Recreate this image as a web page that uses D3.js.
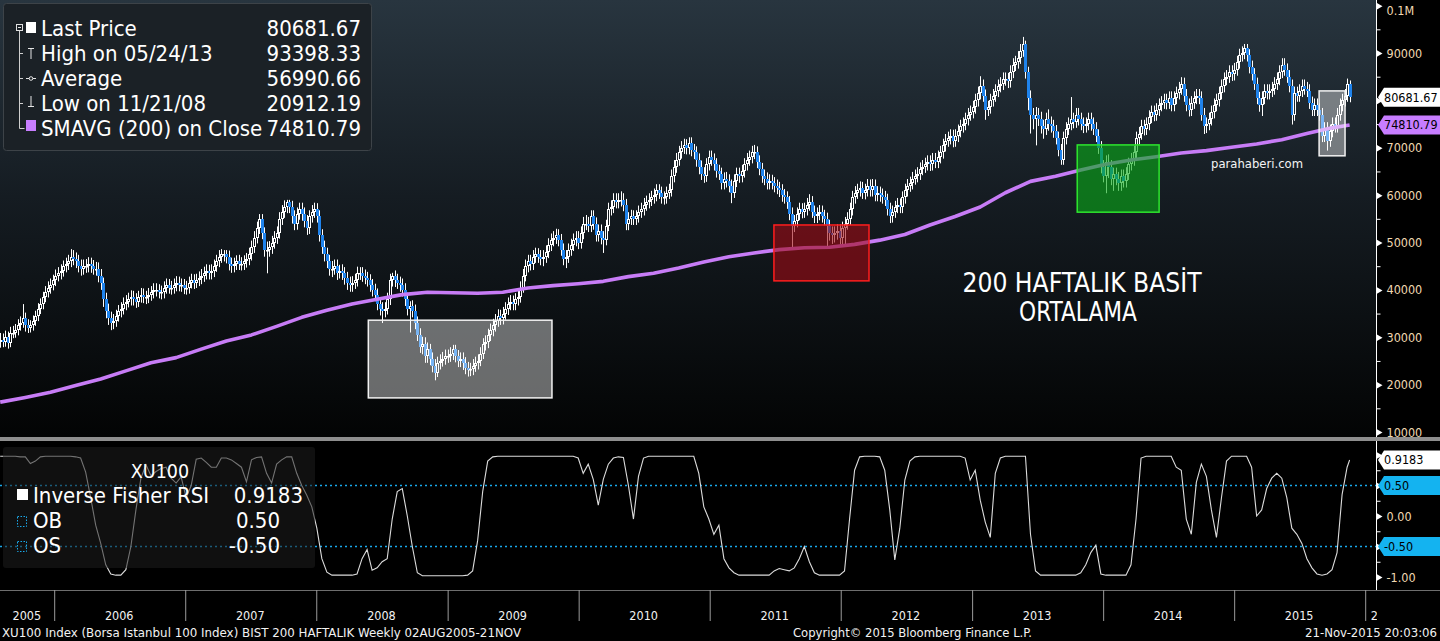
<!DOCTYPE html>
<html><head><meta charset="utf-8">
<script src="https://cdn.jsdelivr.net/npm/d3@7"></script>
<style>html,body{margin:0;padding:0;background:#000;overflow:hidden}svg{display:block}</style>
</head><body>
<svg id="chart" width="1440" height="641"></svg>
<script>
// ---------------- DATA (prices in thousands of index points) ----------------
const startDate = "2005-08-05";          // first weekly bar
const closes = [
29.5,29,30,28.8,31,31,31.5,32.5,33,34,
32.5,32,32.5,33.5,34.5,36,37,38.5,39.5,40.5,
41,42,43,43.5,44,45,45.5,46,47,46.5,
46,45,44.5,45,45,45.5,45,44.5,44.5,43,
41.5,38,35.5,34,33,33.5,34.5,35.5,36,37,
37.5,38,38.5,38,37.5,38.5,39,38.5,38.5,39,
39.5,40,40,39.5,39.5,40.5,41,40.5,40.5,41,
41.5,41,41,40.5,40.5,41.5,42,41.5,42,42.5,
43,43.5,44,43.5,44,45,46,47,47.5,47.5,
47,45.5,45,45.5,46,45.5,45.5,46,46.5,47.5,
49,51,53,55,52,48.5,48.5,49,50,51,
52,55,56.5,57.5,58.5,57.5,55.5,54,56,57,
56,54.5,53,55.5,56.5,57,55.5,51.5,49,47.5,
46,44.5,44.5,45,43.5,44,43.5,42.5,41.5,41,
41.5,42,43.5,43.5,43,42.5,42,41,40,39,
37,36,35.5,36,38,42,43,42,41.5,41,
40,38,36,36.5,35.5,33,30.5,28,28.5,26,
27.5,25.5,24,22.5,24.5,25,25.5,26,26,26.5,
27.5,26,25,25.5,24.5,23.5,23,23.2,24,24.5,
25,26.5,28.5,29,30.5,31.5,32.5,33.5,34.5,34,
35,36,37,37.5,37,38,38.5,40.5,43,45,
46,45.5,47,47.5,47,46.5,47,48,49.5,50.5,
51,51.5,50.5,48.5,46.5,47,48.5,49.5,50.5,51,
50,52,54,54,53.5,55.5,54,51.5,52.5,51,
50.5,53.5,57,57.5,59,58.5,59,59,58,54,
55,55.5,55,55.5,56.5,57,58,58.5,59,59.5,
60,61,60.5,59.5,59.5,60.5,61,64,66,67.5,
69,70,70.5,70,71,69.5,69,67.5,66,64.5,
64,66.5,68,67.5,66.5,65,64.5,62.5,63.5,63,
62,60.5,63,64.5,64,65,66.5,67.5,68,69,
69,67,65.5,64,63.5,62.5,63,62.5,62,61.5,
61,60,59.5,58.5,56,53.5,54.5,56,57,56.5,
57,58,58.5,56.5,55.5,56,56.5,55.5,55,53.5,
52,51.5,52,52.5,51,53,54,55,57,59.5,
60.5,61,61.5,60.5,61,62,61,62,60,60.5,
60,59.5,59,57,55.5,56.5,57.5,58,57.5,59.5,
61,62,62.5,63.5,64,64.5,65.5,66,66.5,67,
66.5,67.5,67,68,69,70.5,71.5,72,72.5,71.5,
72.5,73.5,74.5,75,76,77,77.5,78.5,80,81.5,
83,81,78,78.5,80,81,82,83,83.5,84.5,
84.5,84,86,87.5,88,89,90.5,92,86,80.5,
77,76,77,76,74.5,74,76,75,74.5,73.5,
72,69.5,67.5,72,74,75,76,75.5,77,76,
75,74.5,75,76,75,74,72.5,70,66,64,
67,66,63.5,64.5,63.5,62.5,64,63,64.5,66.5,
67.5,69,72,73,74.5,74,75,76.5,77.5,77,
78,79,79.5,80,79.5,80.5,79,80.5,81.5,82.5,
83.5,81,79,78,79.5,80.5,81,80.5,77,74.5,
75,76,77.5,79,80,81.5,83,84.5,85,86,
85.5,86.5,88,89.5,90,91,89.5,87,85.5,83.5,
80.5,79,80.5,82,81.5,82,82.5,83.5,84.5,86,
87.5,86.5,85,83,77,81.5,81,82,83,82.5,
82,79.5,78,79,78,77,72.5,74,71.5,73.5,
75,74.5,77,79,80,81,83.5,80.68167];
const opens = [
29,29.5,29,30,28.8,31,31,31.5,32.5,33,
34,32.5,32,32.5,33.5,34.5,36,37,38.5,39.5,
40.5,41,42,43,43.5,44,45,45.5,46,47,
46.5,46,45,44.5,45,45,45.5,45,44.5,44.5,
43,41.5,38,35.5,34,33,33.5,34.5,35.5,36,
37,37.5,38,38.5,38,37.5,38.5,39,38.5,38.5,
39,39.5,40,40,39.5,39.5,40.5,41,40.5,40.5,
41,41.5,41,41,40.5,40.5,41.5,42,41.5,42,
42.5,43,43.5,44,43.5,44,45,46,47,47.5,
47.5,47,45.5,45,45.5,46,45.5,45.5,46,46.5,
47.5,49,51,53,55,52,48.5,48.5,49,50,
51,52,55,56.5,57.5,58.5,57.5,55.5,54,56,
57,56,54.5,53,55.5,56.5,57,55.5,51.5,49,
47.5,46,44.5,44.5,45,43.5,44,43.5,42.5,41.5,
41,41.5,42,43.5,43.5,43,42.5,42,41,40,
39,37,36,35.5,36,38,42,43,42,41.5,
41,40,38,36,36.5,35.5,33,30.5,28,28.5,
26,27.5,25.5,24,22.5,24.5,25,25.5,26,26,
26.5,27.5,26,25,25.5,24.5,23.5,23,23.2,24,
24.5,25,26.5,28.5,29,30.5,31.5,32.5,33.5,34.5,
34,35,36,37,37.5,37,38,38.5,40.5,43,
45,46,45.5,47,47.5,47,46.5,47,48,49.5,
50.5,51,51.5,50.5,48.5,46.5,47,48.5,49.5,50.5,
51,50,52,54,54,53.5,55.5,54,51.5,52.5,
51,50.5,53.5,57,57.5,59,58.5,59,59,58,
54,55,55.5,55,55.5,56.5,57,58,58.5,59,
59.5,60,61,60.5,59.5,59.5,60.5,61,64,66,
67.5,69,70,70.5,70,71,69.5,69,67.5,66,
64.5,64,66.5,68,67.5,66.5,65,64.5,62.5,63.5,
63,62,60.5,63,64.5,64,65,66.5,67.5,68,
69,69,67,65.5,64,63.5,62.5,63,62.5,62,
61.5,61,60,59.5,58.5,56,53.5,54.5,56,57,
56.5,57,58,58.5,56.5,55.5,56,56.5,55.5,55,
53.5,52,51.5,52,52.5,51,53,54,55,57,
59.5,60.5,61,61.5,60.5,61,62,61,62,60,
60.5,60,59.5,59,57,55.5,56.5,57.5,58,57.5,
59.5,61,62,62.5,63.5,64,64.5,65.5,66,66.5,
67,66.5,67.5,67,68,69,70.5,71.5,72,72.5,
71.5,72.5,73.5,74.5,75,76,77,77.5,78.5,80,
81.5,83,81,78,78.5,80,81,82,83,83.5,
84.5,84.5,84,86,87.5,88,89,90.5,92,86,
80.5,77,76,77,76,74.5,74,76,75,74.5,
73.5,72,69.5,67.5,72,74,75,76,75.5,77,
76,75,74.5,75,76,75,74,72.5,70,66,
64,67,66,63.5,64.5,63.5,62.5,64,63,64.5,
66.5,67.5,69,72,73,74.5,74,75,76.5,77.5,
77,78,79,79.5,80,79.5,80.5,79,80.5,81.5,
82.5,83.5,81,79,78,79.5,80.5,81,80.5,77,
74.5,75,76,77.5,79,80,81.5,83,84.5,85,
86,85.5,86.5,88,89.5,90,91,89.5,87,85.5,
83.5,80.5,79,80.5,82,81.5,82,82.5,83.5,84.5,
86,87.5,86.5,85,83,77,81.5,81,82,83,
82.5,82,79.5,78,79,78,77,72.5,74,71.5,
73.5,75,74.5,77,79,80,81,83.5];
const highs = [
30.9,30.8,31.4,31.2,32.2,32.4,32.8,33.8,34.4,37,
35.2,33.8,33.6,34.6,35.6,37.2,38.2,39.6,40.8,41.8,
42.4,43.2,44.3,44.8,45.4,46.2,46.8,47.4,48.6,48.4,
47.9,47.4,46.4,46.4,46.5,46.9,46.8,46.3,45.9,45.8,
44.4,42.6,39.4,37.1,35.4,34.9,35.8,36.8,37.4,38.4,
38.9,39.4,39.9,39.8,39.3,39.8,40.4,40.3,39.8,40.4,
40.8,41.4,41.4,41.2,40.9,41.8,42.4,42.3,41.9,42.4,
42.9,42.8,42.4,42.3,41.9,42.8,43.4,43.3,43.4,43.9,
44.4,44.9,45.4,45.3,45.4,46.4,47.4,48.4,48.6,48.4,
48.4,48.3,46.8,46.8,47.3,47.4,46.9,47.3,47.8,48.9,
50.4,52.4,54.4,56,56,53.2,50.2,50.3,51.4,52.4,
53.4,56.4,57.9,58.9,59,59,58.8,56.8,57.4,58.4,
58.4,57.4,55.8,56.8,57.9,58.4,58.3,56.8,52.8,50.4,
48.9,47.4,46.1,46.4,46.4,45.3,45.4,44.8,43.8,42.8,
42.9,43.4,44.9,44.8,44.8,44.3,43.8,43.3,42.3,41.3,
40.3,38.4,37.4,37.4,39.4,43.4,43.6,44.1,43.4,42.8,
42.4,41.4,39.4,37.6,37.8,36.9,34.4,31.9,30.1,30,
28.9,28.6,26.8,25.4,25.9,26.4,26.9,27.4,27.4,27.9,
28.4,28.4,27.3,26.8,26.8,25.8,24.8,24.6,25.4,25.9,
26.4,27.9,29.8,30.4,31.8,32.9,33.9,34.9,35.9,35.8,
36.4,37.4,38.4,38.9,38.8,39.3,39.9,41.8,44.4,46.4,
47.4,47.4,48.4,48.9,48.8,48.4,48.4,49.4,50.9,51.9,
52.4,52.9,52.8,51.8,49.8,48.4,49.8,50.8,51.9,52.4,
52.4,53.4,55.4,55.8,55.4,56.8,56.8,55.3,53.8,53.8,
52.4,54.8,58.4,58.9,60.4,60.4,60.4,60.8,60.4,59.2,
56.4,56.9,56.8,56.8,57.8,58.4,59.4,59.9,60.4,60.9,
61.4,62.3,62.3,61.8,60.8,61.8,62.4,65.4,67.4,68.9,
70.4,71.4,71.9,71.8,72.2,72.2,70.8,70.3,68.8,67.3,
65.9,67.8,69.4,69.4,68.8,67.8,66.4,65.8,64.8,64.9,
64.4,63.3,64.4,65.8,65.8,66.4,67.8,68.9,69.4,70.4,
70.6,70.3,68.4,66.8,65.4,64.8,64.4,64.3,63.8,63.3,
62.8,62.3,61.3,60.8,59.8,57.4,55.8,57.4,58.4,58.3,
58.4,59.4,60.2,59.8,57.8,57.4,57.9,57.8,56.9,56.3,
54.8,53.4,53.4,53.8,53.8,54.4,55.4,56.4,58.4,60.9,
61.9,62.4,62.9,62.8,62.4,63.4,63.3,63.4,63.3,61.9,
61.8,61.4,60.9,60.3,58.4,57.8,58.8,59.4,59.3,60.8,
62.4,63.4,63.9,64.9,65.4,65.9,66.9,67.4,67.9,68.4,
68.4,68.9,68.9,69.4,70.4,71.9,72.9,73.4,73.9,73.8,
73.9,74.9,75.9,76.4,77.4,78.4,78.9,79.9,81.4,82.9,
85.1,84.4,82.3,79.9,81.4,82.4,83.4,84.4,84.9,85.9,
85.9,85.8,87.4,88.9,89.4,90.4,91.9,93.39833,92.6,87.1,
82.1,78.4,78.6,78.4,77.6,75.9,77.4,78.1,76.6,75.9,
74.8,73.4,70.8,73.4,75.4,76.4,80.7,77.4,78.4,78.4,
77.4,76.4,76.4,77.4,77.4,76.4,75.4,73.9,71.4,67.4,
68.4,68.6,67.4,65.8,65.8,64.9,65.4,65.4,65.9,67.9,
68.9,70.4,73.4,74.4,75.9,75.9,76.4,77.9,78.9,78.9,
79.4,80.4,80.9,81.4,81.4,81.9,81.9,81.9,82.9,83.9,
84.9,84.8,82.4,80.4,80.9,81.9,82.4,82.4,81.9,78.4,
76.4,77.4,78.9,80.4,81.4,82.9,84.4,85.9,86.4,87.4,
87.4,87.9,89.4,90.9,91.4,91.9,91.9,90.8,88.4,86.8,
84.8,81.8,81.9,83.4,83.4,83.4,83.9,84.9,85.9,87.4,
88.9,88.9,87.8,86.4,84.4,82.9,82.9,83.4,84.4,84.4,
83.9,83.4,80.8,80.4,80.4,79.4,78.4,75.4,75.4,74.9,
76.4,76.4,78.4,80.4,81.4,82.4,84.6,84.2];
const lows = [
27.8,27.9,28,27.6,27.9,29.8,29.9,30.4,31.4,32,
31.2,30.9,31,31.4,32.4,33.4,34.9,35.9,37.4,38.4,
39.2,39.9,40.8,41.8,42.2,42.8,43.7,44.2,44.8,45.2,
44.6,43.7,43,43.2,43.6,43.7,43.6,43.2,43,41.6,
40,36.4,34,32.6,31.5,31.7,32.2,33.3,34.2,34.8,
35.7,36.3,36.7,36.7,36.2,36.4,37.3,37.2,37,37.2,
37.7,38.2,38.6,38.2,38,38.2,39.2,39.2,39,39.2,
39.7,39.7,39.6,39.1,39,39.2,40.3,40.2,40.4,40.8,
41.2,41.7,42.2,42.2,42.2,42.7,43.8,44.8,45.7,46,
45.6,44.1,43.6,43.7,44.2,44.2,44.1,44.2,44.7,45.2,
46.2,47.8,49.8,51.8,50.7,47,43.5,47,47.6,48.7,
49.7,50.8,53.7,55.2,56.2,56.2,54,52.6,52.7,54.8,
54.6,53.2,51.6,51.8,54.2,55.2,54.2,50.2,47.6,46,
44.6,43,42.7,43.2,42.1,42.4,42.1,41.1,40,39.6,
39.6,40.2,40.7,42.1,41.7,41.2,40.7,39.6,38.6,37.6,
35.7,34.6,33,34.2,34.8,36.8,40.7,40.6,40.2,39.6,
38.6,36.6,34.6,31,34.2,31.7,29.2,26.7,26.4,24.6,
24.6,24.1,22.6,20.91219,21.6,23.2,23.8,24.2,24.6,24.8,
25.2,24.7,23.7,23.7,23.1,22.2,21.7,21.8,22,22.7,
23.2,23.9,25.4,27.2,27.7,29.2,30.2,31.2,32.2,32.6,
32.7,33.7,34.7,35.7,35.7,35.7,36.7,37.3,39.4,41.8,
43.7,44.1,44.2,45.7,45.7,45.2,45,45.7,46.7,48.2,
49.2,49.7,49.2,47.2,45.2,44.6,45.7,47.2,48.2,49.2,
48.6,48.7,50.7,52.6,52.2,52.2,52.7,50.2,50.2,49.6,
47.8,49.4,52.4,55.7,56.2,57.2,57.2,57.6,56.6,52.6,
52.6,53.7,53.7,53.7,54.2,55.2,55.7,56.7,57.2,57.7,
58.2,58.7,59.2,58.2,58,58.2,59.2,59.7,62.7,64.7,
66.2,67.7,68.7,68.6,68.6,68.2,67.6,66,64.4,63.2,
62.6,62.8,65.2,66.2,65.2,63.7,63.2,61.2,61.2,61.6,
60.6,58.3,59.4,61.7,62.6,62.7,63.7,65.2,66.2,66.7,
67.6,65.7,64.2,62.6,62.1,61.2,61.2,61.2,60.6,60.2,
59.6,58.6,58.2,57.1,54.7,48.8,52.2,53.2,54.7,55.1,
55.2,55.7,56.7,55.2,54.1,54.1,54.7,54.2,53.6,49,
50.4,49.7,50,50.6,49.6,49.6,49.5,52.7,53.7,55.7,
58.2,59.2,59.7,59.2,59.1,59.7,59.7,59.7,58.7,58.7,
58.6,58.2,57.7,55.7,54.1,54.2,55.2,56.2,56.2,56.2,
58.2,59.7,60.7,61.2,62.2,62.7,63.2,64.2,64.7,65.2,
65.1,65.2,65.7,65.7,66.7,67.7,69.2,70.2,70.7,70.1,
70.2,71.2,72.2,73.2,73.7,74.7,75.7,76.2,77.2,78.7,
80.2,79.7,75.9,76.7,77.2,78.7,79.7,80.7,81.7,82.2,
83.1,82.6,82.7,84.7,86.2,86.7,87.7,89.2,84.6,77.9,
73,73.9,70.5,74.6,73,71.9,72.7,73.6,73.2,72.1,
70.7,68.2,66.4,66.4,70.7,72.7,73.7,74.1,74.2,74.7,
73.7,73.1,73.2,73.7,73.6,72.7,71.2,68.7,64.6,62.7,
60.4,63.6,62.1,60.9,62.1,60.9,60.9,61.6,61.6,63.2,
65.2,66.2,67.7,70.7,71.7,72.6,72.7,73.7,75.2,75.6,
75.7,76.7,77.7,78.2,78.1,78.2,77.7,77.7,79.2,80.2,
81.2,79.7,77.7,76.6,76.7,78.2,79.2,79.2,75.7,72.9,
73.1,73.7,74.7,76.2,77.7,78.7,80.2,81.7,83.2,83.7,
84.1,84.2,85.2,86.7,88.2,88.7,88.2,85.7,84.2,82.2,
79.2,77.6,76.7,79.2,80.2,80.2,80.7,81.2,82.2,83.2,
84.7,85.2,83.7,81.7,74.9,75.7,79.7,79.7,80.7,81.2,
80.7,78.2,76.7,76.7,76.7,75.7,71.2,71.2,69.4,70.2,
72.2,73.2,73.2,75.7,77.7,78.7,79.7,79.6];
// 200-week simple moving average, read every 10 weeks (last point = final week)
const smaWeeks = [0,10,20,30,40,50,60,70,80,90,100,110,120,130,140,150,160,170,180,190,200,210,220,230,240,250,260,270,280,290,300,310,320,330,340,350,360,370,380,390,400,410,420,430,440,450,460,470,480,490,500,510,520,530,537];
const sma = [
16.3,17.3,18.4,19.8,21.2,22.9,24.6,25.7,27.5,29.2,
30.5,32.3,34.2,35.7,37.0,38.0,39.0,39.5,39.4,39.3,
39.5,40.4,40.9,41.3,41.8,42.8,43.5,44.6,45.9,47.0,
47.8,48.5,48.9,49.0,49.6,50.5,51.7,53.7,55.5,57.5,
60.5,62.9,64.0,65.3,66.5,67.4,68.1,68.9,69.4,70.1,
70.8,71.7,73.0,74.2,74.81079];
// Inverse Fisher RSI, read every 2 weeks (last point = final week)
const rsiStep = 2;
const rsi = [
0.98,0.98,0.98,0.98,0.97,0.97,0.86,0.9,0.97,0.98,
0.98,0.98,0.98,0.98,0.98,0.97,0.95,0.72,0.3,-0.15,
-0.45,-0.8,-0.95,-0.97,-0.97,-0.88,-0.5,0.1,0.62,0.84,
0.66,0.73,0.78,0.8,0.62,0.54,0.64,0.3,0.5,0.93,
0.95,0.88,0.8,0.8,0.95,0.95,0.92,0.86,0.8,0.56,
0.92,0.96,0.97,0.7,0.54,0.85,0.92,0.97,0.97,0.7,
0.5,0.34,0.15,-0.2,-0.7,-0.92,-0.97,-0.97,-0.97,-0.97,
-0.97,-0.95,-0.7,-0.55,-0.89,-0.85,-0.75,-0.7,-0.05,0.4,
0.45,0.0,-0.5,-0.93,-0.98,-0.98,-0.98,-0.98,-0.98,-0.98,
-0.98,-0.98,-0.98,-0.97,-0.9,-0.4,0.4,0.9,0.97,0.98,
0.98,0.98,0.98,0.98,0.98,0.98,0.98,0.98,0.98,0.98,
0.98,0.98,0.98,0.98,0.98,0.95,0.7,0.85,0.6,0.18,
0.6,0.85,0.95,0.97,0.96,0.5,-0.05,0.65,0.95,0.98,
0.98,0.98,0.98,0.98,0.98,0.98,0.98,0.98,0.98,0.7,
0.15,-0.05,-0.3,-0.15,-0.7,-0.85,-0.93,-0.97,-0.97,-0.97,
-0.97,-0.97,-0.97,-0.97,-0.9,-0.86,-0.88,-0.9,-0.85,-0.7,
-0.5,-0.75,-0.93,-0.97,-0.97,-0.97,-0.97,-0.97,-0.9,-0.05,
0.75,0.97,0.98,0.98,0.98,0.97,0.75,0.1,-0.72,-0.2,
0.59,0.9,0.97,0.98,0.98,0.98,0.98,0.98,0.98,0.98,
0.98,0.98,0.95,0.59,0.75,0.26,-0.1,-0.35,0.7,0.95,
0.98,0.98,0.98,0.98,0.98,-0.3,-0.9,-0.97,-0.97,-0.97,
-0.97,-0.97,-0.97,-0.97,-0.97,-0.93,-0.8,-0.6,-0.48,-0.95,
-0.97,-0.97,-0.97,-0.97,-0.97,-0.8,-0.05,0.95,0.98,0.98,
0.98,0.98,0.98,0.98,0.8,0.75,-0.05,-0.3,0.55,0.85,
0.65,0.1,-0.35,0.3,0.9,0.98,0.98,0.98,0.98,0.8,
0.0,0.1,0.45,0.62,0.7,0.62,0.3,-0.2,-0.3,-0.45,
-0.7,-0.85,-0.95,-0.97,-0.95,-0.88,-0.6,0.35,0.8,0.9183];
const obLevel = 0.5, osLevel = -0.5;
const priceTicks = [10,20,30,40,50,60,70,80,90,100];
const priceTickLabels = ["10000","20000","30000","40000","50000","60000","70000","80000","90000","0.1M"];
const rsiTicks = [-1,-0.5,0,0.5,1];
const rsiTickLabels = ["-1.00","-0.50","0.00","0.50","1.00"];
const yearLabels = ["2005","2006","2007","2008","2009","2010","2011","2012","2013","2014","2015","2016"];
const legendLabels = ["Last Price","High on 05/24/13","Average","Low on 11/21/08","SMAVG (200) on Close"];
const legendValues = ["80681.67","93398.33","56990.66","20912.19","74810.79"];
const lastPrice = 80.68167, lastSma = 74.81079, lastRsi = 0.9183;
// highlighted zones: [start year, end year, top value, bottom value]
const zones = [
  {t0:2008.40,t1:2009.80,v0:33.6,v1:17.2,kind:"gray"},
  {t0:2011.494,t1:2012.219,v0:53.7,v1:41.9,kind:"red"},
  {t0:2013.806,t1:2014.431,v0:70.6,v1:56.4,kind:"green"},
  {t0:2015.652,t1:2015.85,v0:82.0,v1:68.3,kind:"gray"}
];

// ---------------- DRAWING ----------------
const FONT = "'DejaVu Sans Condensed','DejaVu Sans',sans-serif";
const W = 1440, H = 641, plotR = 1376, topB = 437, lowT = 441, lowB = 590;
const loc = d3.formatLocale({decimal:".", thousands:",", grouping:[3], currency:["",""], minus:"-"});
const f2 = loc.format(".2f"), f4 = loc.format(".4f");
const svg = d3.select("#chart");
const defs = svg.append("defs");
const g0 = defs.append("linearGradient").attr("id","bg").attr("x1",0).attr("y1",0).attr("x2",0).attr("y2",1);
g0.append("stop").attr("offset","0%").attr("stop-color","#28353f");
g0.append("stop").attr("offset","45%").attr("stop-color","#151c22");
g0.append("stop").attr("offset","100%").attr("stop-color","#030404");
defs.append("clipPath").attr("id","clipTop").append("rect").attr("x",0).attr("y",0).attr("width",plotR).attr("height",topB);
defs.append("clipPath").attr("id","clipLow").append("rect").attr("x",0).attr("y",lowT).attr("width",plotR).attr("height",lowB-lowT);
defs.append("clipPath").attr("id","clipX").append("rect").attr("x",0).attr("y",lowB).attr("width",plotR+1).attr("height",40);

svg.append("rect").attr("width",W).attr("height",H).attr("fill","#000");
svg.append("rect").attr("x",0).attr("y",0).attr("width",plotR).attr("height",topB).attr("fill","url(#bg)");

const t0 = d3.utcParse("%Y-%m-%d")(startDate);
const x = d3.scaleUtc().domain([Date.UTC(2006,0,1), Date.UTC(2016,0,1)]).range([53.7, 1364.7]);
const y = d3.scaleLinear().domain([10, 90]).range([432, 53]);
const yr = d3.scaleLinear().domain([-1, 1]).range([577, 455]);
const yearToDate = v => { const yy = Math.floor(v); const a = Date.UTC(yy,0,1), b = Date.UTC(yy+1,0,1); return new Date(a + (v-yy)*(b-a)); };
const weekDate = i => d3.utcDay.offset(t0, 7*i);

const bars = closes.map((c,i)=>({d:weekDate(i), o:opens[i], h:highs[i], l:lows[i], c}));

// candles
const gC = svg.append("g").attr("clip-path","url(#clipTop)");
bars.forEach(b=>{
  const px = Math.round(x(b.d));
  const top = Math.min(y(b.o), y(b.c)), bot = Math.max(y(b.o), y(b.c));
  const hy = Math.min(y(b.h), top), ly = Math.max(y(b.l), bot);
  const up = b.c >= b.o;
  const rt = Math.round(top), rb = Math.max(Math.round(bot), rt+1);
  gC.append("line").attr("x1",px+0.5).attr("x2",px+0.5).attr("y1",hy).attr("y2",rt)
    .attr("stroke","#fff").attr("stroke-width",1);
  gC.append("line").attr("x1",px+0.5).attr("x2",px+0.5).attr("y1",rb).attr("y2",ly)
    .attr("stroke","#fff").attr("stroke-width",1);
  if (up) {
    gC.append("rect").attr("x",px-0.5).attr("y",rt+0.5).attr("width",2).attr("height",Math.max(rb-rt-1,0.5))
      .attr("fill","none").attr("stroke","#fff").attr("stroke-width",1);
  } else {
    gC.append("rect").attr("x",px-1).attr("y",rt).attr("width",3).attr("height",rb-rt).attr("fill","#1f83ec");
  }
});

// SMA line
const smaPts = sma.map((v,k)=>({d:weekDate(smaWeeks[k]), v}));
gC.append("path").datum(smaPts).attr("d", d3.line().x(d=>x(d.d)).y(d=>y(d.v)))
  .attr("fill","none").attr("stroke","#c77cf6").attr("stroke-width",3.6).attr("stroke-linejoin","round");

// zones (translucent overlays on top of the price bars)
const gZ = svg.append("g");
zones.forEach(z=>{
  const xa = x(yearToDate(z.t0)), xb = x(yearToDate(z.t1)), ya = y(z.v0), yb = y(z.v1);
  const r = gZ.append("rect").attr("x",xa).attr("y",ya).attr("width",xb-xa).attr("height",yb-ya);
  if (z.kind==="gray") r.attr("fill","#ffffff").attr("fill-opacity",0.4);
  if (z.kind==="red") r.attr("fill","#a00a14").attr("fill-opacity",0.6);
  if (z.kind==="green") r.attr("fill","#0aaa19").attr("fill-opacity",0.62);
  gZ.append("rect").attr("x",xa).attr("y",ya).attr("width",xb-xa).attr("height",yb-ya).attr("fill","none")
    .attr("stroke", z.kind==="gray" ? "#f2f2f2" : z.kind==="red" ? "#ff1e1e" : "#2ee62e").attr("stroke-width",1.5);
});

// annotations
svg.append("text").attr("x",1082).attr("y",292).attr("text-anchor","middle").attr("fill","#fff")
  .attr("font-family",FONT).attr("font-size",26).attr("textLength",239).attr("lengthAdjust","spacingAndGlyphs")
  .text("200 HAFTALIK BASİT");
svg.append("text").attr("x",1078).attr("y",321).attr("text-anchor","middle").attr("fill","#fff")
  .attr("font-family",FONT).attr("font-size",26).attr("textLength",118).attr("lengthAdjust","spacingAndGlyphs")
  .text("ORTALAMA");
svg.append("text").attr("x",1211).attr("y",168).attr("fill","#f4f4f4")
  .attr("font-family",FONT).attr("font-size",13).attr("textLength",92).attr("lengthAdjust","spacingAndGlyphs")
  .text("parahaberi.com");

// separators and axes frames
svg.append("rect").attr("x",0).attr("y",topB).attr("width",W).attr("height",lowT-topB).attr("fill","#8e8e8e");
svg.append("line").attr("x1",plotR+0.5).attr("x2",plotR+0.5).attr("y1",0).attr("y2",topB).attr("stroke","#fff");
svg.append("line").attr("x1",plotR+0.5).attr("x2",plotR+0.5).attr("y1",lowT).attr("y2",lowB).attr("stroke","#fff");
svg.append("line").attr("x1",0).attr("x2",W).attr("y1",lowB+0.5).attr("y2",lowB+0.5).attr("stroke","#6e6e6e");

// value tags positions (used to hide the tick labels they cover)
const tags = [
  {yc:y(lastPrice), fill:"#ffffff", txt:f2(lastPrice*1000), panel:"top"},
  {yc:y(lastSma), fill:"#c77dff", txt:f2(lastSma*1000), panel:"top"},
  {yc:yr(lastRsi), fill:"#ffffff", txt:f4(lastRsi), panel:"low"},
  {yc:yr(obLevel), fill:"#14b3f0", txt:f2(obLevel), panel:"low"},
  {yc:yr(osLevel), fill:"#14b3f0", txt:f2(osLevel), panel:"low"}
];
const covered = (yy, panel) => tags.some(t=>t.panel===panel && Math.abs(t.yc-yy) < 11);

// right price axis
const tri = "M0,-3.5L6,0L0,3.5Z";
const minorP = d3.range(15, 100, 10);
const axMinor = svg.append("g").attr("transform",`translate(${plotR+0.5},0)`)
  .call(d3.axisRight(y).tickValues(minorP).tickSize(4).tickFormat(""));
axMinor.select(".domain").remove();
axMinor.selectAll("line").attr("stroke","#fff");
const axP = svg.append("g").attr("transform",`translate(${plotR+0.5},0)`)
  .call(d3.axisRight(y).tickValues(priceTicks).tickSize(0).tickPadding(10).tickFormat((d,i)=>priceTickLabels[i]));
axP.select(".domain").remove();
axP.selectAll(".tick").append("path").attr("d",tri).attr("fill","#fff");
axP.selectAll("text").attr("fill","#f1d8b2").attr("font-family",FONT).attr("font-size",12.5);
axP.selectAll(".tick").filter(d=>d===100).select("text").attr("dy","0.7em");
axP.selectAll(".tick").filter(d=>covered(y(d),"top")).select("text").remove();

// lower panel
const gL = svg.append("g").attr("clip-path","url(#clipLow)");
[obLevel, osLevel].forEach(v=>{
  gL.append("line").attr("x1",0).attr("x2",plotR).attr("y1",yr(v)).attr("y2",yr(v))
    .attr("stroke","#19a9ea").attr("stroke-width",1.6).attr("stroke-dasharray","2,3");
});
const rsiPts = rsi.map((v,j)=>({d:weekDate(Math.min(j*rsiStep, closes.length-1)), v}));
gL.append("path").datum(rsiPts).attr("d", d3.line().x(d=>x(d.d)).y(d=>yr(d.v)))
  .attr("fill","none").attr("stroke","#dcdcdc").attr("stroke-width",1.1);

const axRm = svg.append("g").attr("transform",`translate(${plotR+0.5},0)`)
  .call(d3.axisRight(yr).tickValues([-0.75,-0.25,0.25,0.75]).tickSize(4).tickFormat(""));
axRm.select(".domain").remove();
axRm.selectAll("line").attr("stroke","#fff");
const axR = svg.append("g").attr("transform",`translate(${plotR+0.5},0)`)
  .call(d3.axisRight(yr).tickValues(rsiTicks).tickSize(0).tickPadding(10).tickFormat((d,i)=>rsiTickLabels[i]));
axR.select(".domain").remove();
axR.selectAll(".tick").append("path").attr("d",tri).attr("fill","#fff");
axR.selectAll("text").attr("fill","#f1d8b2").attr("font-family",FONT).attr("font-size",12.5);
axR.selectAll(".tick").filter(d=>covered(yr(d),"low")).select("text").remove();

// value tags
tags.forEach(t=>{
  svg.append("path").attr("d",`M${plotR+2},${t.yc}L${plotR+8},${t.yc-9.5}H${W}V${t.yc+9.5}H${plotR+8}Z`).attr("fill",t.fill);
  svg.append("text").attr("x",plotR+8).attr("y",t.yc+4.5).attr("fill","#000").attr("font-family",FONT)
    .attr("font-size",12.5).text(t.txt);
});

// x axis
const quarters = d3.utcMonth.every(3).range(Date.UTC(2005,9,1), Date.UTC(2016,0,2));
const axQ = svg.append("g").attr("transform",`translate(0,${lowB})`).attr("clip-path","url(#clipX)")
  .call(d3.axisBottom(x).tickValues(quarters).tickSize(6).tickFormat(""));
axQ.select(".domain").remove();
axQ.selectAll("line").attr("stroke","#e0e0e0").attr("transform","translate(0.5,0)");
const yearStarts = d3.utcYear.range(Date.UTC(2006,0,1), Date.UTC(2016,0,2));
const axY = svg.append("g").attr("transform",`translate(0,${lowB})`)
  .call(d3.axisBottom(x).tickValues(yearStarts).tickSize(31).tickFormat(""));
axY.select(".domain").remove();
axY.selectAll("line").attr("stroke","#9a9a9a").attr("transform","translate(0.5,0)");
const gYL = svg.append("g").attr("clip-path","url(#clipX)");
yearLabels.forEach((lab,k)=>{
  const yy = 2005 + k;
  const a = Math.max(x(Date.UTC(yy,0,1)), 0), b = Math.min(x(Date.UTC(yy+1,0,1)), plotR);
  const last = yy === 2016;
  gYL.append("text").attr("x", last ? a+6 : (a+b)/2).attr("y",620)
    .attr("text-anchor", last ? "start" : "middle").attr("fill","#f2f2f2")
    .attr("font-family",FONT).attr("font-size",12.5).text(lab);
});

// footer
const foot = (xx, anchor, len, txt) => svg.append("text").attr("x",xx).attr("y",637).attr("text-anchor",anchor)
  .attr("fill","#f2f2f2").attr("font-family",FONT).attr("font-size",12.5)
  .attr("textLength",len).attr("lengthAdjust","spacingAndGlyphs").text(txt);
foot(2, "start", 519, "XU100 Index (Borsa Istanbul 100 Index) BIST 200 HAFTALIK  Weekly 02AUG2005-21NOV");
foot(793, "start", 239, "Copyright© 2015 Bloomberg Finance L.P.");
foot(1437, "end", 132, "21-Nov-2015 20:03:06");

// top legend
const lg = svg.append("g");
lg.append("rect").attr("x",3.5).attr("y",3.5).attr("width",368).attr("height",147).attr("rx",3)
  .attr("fill","#1b2126").attr("stroke","#3d4348");
lg.append("path").attr("d","M19.5,31V128.5H24.5M19.5,53.5H23M19.5,78.5H23M19.5,103.5H23")
  .attr("stroke","#cfcfcf").attr("fill","none");
lg.append("rect").attr("x",16.5).attr("y",24.5).attr("width",6).attr("height",6).attr("fill","#1b2126").attr("stroke","#e0e0e0");
lg.append("path").attr("d","M18,27.5H21").attr("stroke","#e0e0e0");
lg.append("rect").attr("x",26).attr("y",22).attr("width",10).attr("height",11).attr("fill","#fff");
lg.append("path").attr("d","M28,48.5H34M31,48.5V59").attr("stroke","#e6e6e6").attr("fill","none");
lg.append("path").attr("d","M26,78.5H36").attr("stroke","#e6e6e6");
lg.append("circle").attr("cx",31).attr("cy",78.5).attr("r",1.8).attr("fill","#1b2126").attr("stroke","#e6e6e6");
lg.append("path").attr("d","M31,96V106.5M28,106.5H34").attr("stroke","#e6e6e6").attr("fill","none");
lg.append("rect").attr("x",26).attr("y",120).attr("width",10).attr("height",11).attr("fill","#c77dff");
legendLabels.forEach((lab,k)=>{
  lg.append("text").attr("x",41).attr("y",36+25*k).attr("fill","#fff").attr("font-family",FONT).attr("font-size",22).text(lab);
  lg.append("text").attr("x",361).attr("y",36+25*k).attr("text-anchor","end").attr("fill","#fff").attr("font-family",FONT).attr("font-size",22).text(legendValues[k]);
});

// lower legend
const lg2 = svg.append("g");
lg2.append("rect").attr("x",3).attr("y",447).attr("width",312).attr("height",121).attr("rx",3)
  .attr("fill","#1e1e1e").attr("fill-opacity",0.55);
lg2.append("text").attr("x",160).attr("y",478).attr("text-anchor","middle").attr("fill","#fff").attr("font-family",FONT).attr("font-size",19.5).text("XU100");
lg2.append("rect").attr("x",17).attr("y",489).attr("width",11).attr("height",11).attr("fill","#fff");
[516.5, 541.5].forEach(yy=>lg2.append("rect").attr("x",17.5).attr("y",yy).attr("width",9).attr("height",10)
  .attr("fill","none").attr("stroke","#19a9ea").attr("stroke-dasharray","1.5,1.5"));
const l2 = [["Inverse Fisher RSI", f4(lastRsi), 503, 303],["OB", f2(obLevel), 528, 280],["OS", f2(osLevel), 553, 280]];
l2.forEach(r=>{
  lg2.append("text").attr("x",33).attr("y",r[2]).attr("fill","#fff").attr("font-family",FONT).attr("font-size",22).text(r[0]);
  lg2.append("text").attr("x",r[3]).attr("y",r[2]).attr("text-anchor","end").attr("fill","#fff").attr("font-family",FONT).attr("font-size",22).text(r[1]);
});
</script>
</body></html>
